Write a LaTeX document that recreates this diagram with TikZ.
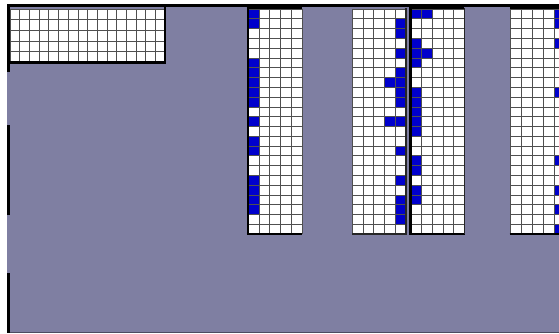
\documentclass[tikz,border=0pt]{standalone}
\usepackage{tikz}
\definecolor{sheetbg}{RGB}{127,127,162}
\definecolor{bluecellc}{RGB}{0,0,204}
\definecolor{gridc}{RGB}{80,80,80}
\tikzset{
  cellfill/.style={fill=white},
  bluecell/.style={fill=bluecellc},
  gridline/.style={draw=gridc,line width=0.6pt},
  thickborder/.style={draw=black,line width=2.6pt},
  medborder/.style={draw=black!85,line width=1.3pt},
}
\newcommand{\drawcells}[6]{%
  \fill[cellfill] (#1,#2) rectangle ++({#3*#5},{#4*#6});
}
\newcommand{\drawlines}[6]{%
  \foreach \i in {0,...,#3} {\draw[gridline] ({#1+\i*#5},#2) -- ++(0,{#4*#6});}
  \foreach \j in {0,...,#4} {\draw[gridline] (#1,{#2+\j*#6}) -- ++({#3*#5},0);}
}
\begin{document}
\begin{tikzpicture}[x=1pt,y=-1pt]
\useasboundingbox (0,0) rectangle (559,333);
\clip (0,0) rectangle (559,333);
\fill[white] (0,0) rectangle (559,333);
% sheet background
\fill[sheetbg] (7,4) rectangle (559,332);
\draw[sheetbg!60!black,line width=1.2pt] (7,332.2) -- (559,332.2);
% top-left grid
\drawcells{10}{9}{16}{5}{9.6875}{10.6}
\drawlines{10}{9}{16}{5}{9.6875}{10.6}
% tall grid A
\drawcells{248}{9}{5}{23}{10.8}{9.78}
\foreach \r in {0,1,5,6,7,8,9,11,13,14,17,18,19,20}
  {\fill[bluecell] (248,{9+\r*9.78}) rectangle ++(10.8,9.78);}
\drawlines{248}{9}{5}{23}{10.8}{9.78}
% tall grid B
\drawcells{352}{9}{5}{23}{10.8}{9.78}
\foreach \r in {1,2,4,6,7,8,9,11,14,17,19,20,21}
  {\fill[bluecell] ({352+4*10.8},{9+\r*9.78}) rectangle ++(10.8,9.78);}
\foreach \r in {7,11}
  {\fill[bluecell] ({352+3*10.8},{9+\r*9.78}) rectangle ++(10.8,9.78);}
\drawlines{352}{9}{5}{23}{10.8}{9.78}
% tall grid C
\drawcells{411}{9}{5}{23}{10.6}{9.78}
\foreach \r in {0,3,4,5,8,9,10,11,12,15,16,18,19}
  {\fill[bluecell] (411,{9+\r*9.78}) rectangle ++(10.6,9.78);}
\foreach \r in {0,4}
  {\fill[bluecell] (421.6,{9+\r*9.78}) rectangle ++(10.6,9.78);}
\drawlines{411}{9}{5}{23}{10.6}{9.78}
% tall grid D (cut off at right)
\drawcells{510}{9}{5}{23}{11}{9.78}
\foreach \r in {0,1,3,8,15,18,20,22}
  {\fill[bluecell] (554,{9+\r*9.78}) rectangle ++(11,9.78);}
\drawlines{510}{9}{5}{23}{11}{9.78}
% top border line
\draw[thickborder,line width=3pt] (7,5.4) -- (559,5.4);
% top-left grid borders
\draw[thickborder] (8.6,4) -- (8.6,72);
\draw[thickborder] (7.3,62.6) -- (166.3,62.6);
\draw[thickborder] (165,5) -- (165,63.9);
% left edge segments
\draw[thickborder] (8.6,125) -- (8.6,215);
\draw[thickborder] (8.6,273) -- (8.6,333);
% grid A borders
\draw[thickborder] (248,7) -- (248,235.2);
\draw[thickborder] (246.7,8) -- (302,8);
\draw[thickborder] (246.7,233.8) -- (302.2,233.8);
% grid B borders
\draw[medborder] (406,8) -- (406,234.5);
\draw[medborder] (352,233.9) -- (406.6,233.9);
% grid C borders
\draw[thickborder] (410.4,7) -- (410.4,235.2);
\draw[thickborder] (409.1,8) -- (464,8);
\draw[thickborder] (409.1,233.8) -- (465,233.8);
\draw[medborder,line width=0.9pt] (464,8) -- (464,234);
% grid D borders
\draw[thickborder] (509.5,233.8) -- (559,233.8);
\draw[thickborder,line width=1.6pt] (510,8) -- (559,8);
\end{tikzpicture}
\end{document}
